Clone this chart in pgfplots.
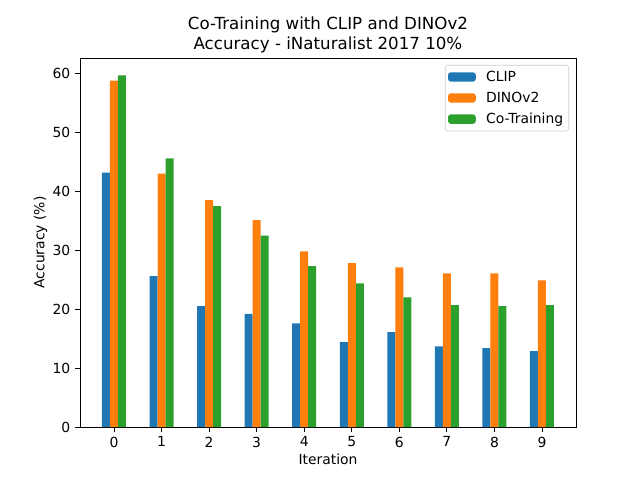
\documentclass[border=0pt]{standalone}
\usepackage{pgfplots}
\pgfplotsset{compat=1.18}
\usepackage{fontspec}
\setmainfont{DejaVu Sans}
\definecolor{cA}{HTML}{1F77B4}
\definecolor{cB}{HTML}{FF7F0E}
\definecolor{cC}{HTML}{2CA02C}
\begin{document}
\begin{tikzpicture}
\begin{axis}[
  scale only axis,
  width=357.1pt, height=265.7pt,
  xmin=-0.715, xmax=9.715,
  ymin=0, ymax=62.65,
  xtick={0,...,9},
  ytick={0,10,...,60},
  tick align=outside,
  xtick pos=bottom, ytick pos=left,
  major tick length=3.5pt,
  tick style={black, line width=0.6pt},
  axis line style={line width=0.6pt},
  /pgf/number format/assume math mode=true,
  ticklabel style={font=\fontsize{10}{12}\selectfont},
  label style={font=\fontsize{10}{12}\selectfont},
  xlabel={Iteration}, ylabel={Accuracy (\%)},
  xlabel shift=-2pt, ylabel shift=-3pt,
  title={Co-Training with CLIP and DINOv2\\Accuracy - iNaturalist 2017 10\%},
  title style={font=\fontsize{12}{15}\selectfont, align=center, yshift=-6.2pt},
  legend style={at={(0.986,0.981)}, anchor=north east, draw=black!20, rounded corners=2pt,
    font=\fontsize{10}{13}\selectfont, inner sep=2pt, row sep=2.2pt, column sep=5.5pt},
  legend cell align=left,
  legend image code/.code={\fill[#1] (0pt,-3.35pt) rectangle (20pt,3.35pt);},
]
\addplot[ybar, bar width=5.76pt, bar shift=-5.76pt, fill=cA, draw=none] coordinates {
 (0,43.2) (1,25.6) (2,20.5) (3,19.2) (4,17.6) (5,14.4) (6,16.1) (7,13.7) (8,13.4) (9,12.9)};
\addlegendentry{CLIP}
\addplot[ybar, bar width=5.76pt, bar shift=0pt, fill=cB, draw=none] coordinates {
 (0,58.8) (1,43.0) (2,38.5) (3,35.1) (4,29.8) (5,27.8) (6,27.1) (7,26.1) (8,26.1) (9,24.9)};
\addlegendentry{DINOv2}
\addplot[ybar, bar width=5.76pt, bar shift=5.76pt, fill=cC, draw=none] coordinates {
 (0,59.7) (1,45.6) (2,37.5) (3,32.5) (4,27.3) (5,24.4) (6,22.0) (7,20.7) (8,20.5) (9,20.7)};
\addlegendentry{Co-Training}
\end{axis}
\useasboundingbox (-57.6pt,-38.16pt) rectangle (403.2pt,307.44pt);
\end{tikzpicture}
\end{document}
